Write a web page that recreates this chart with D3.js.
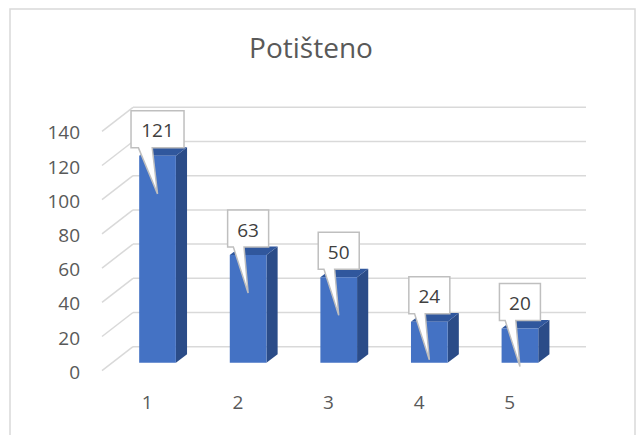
<!DOCTYPE html>
<html>
<head>
<meta charset="utf-8">
<script src="https://cdn.jsdelivr.net/npm/d3@7"></script>
<style>
  html, body { margin: 0; padding: 0; background: #fff; }
  svg { display: block; font-family: "Open Sans", "Noto Sans", sans-serif; }
</style>
</head>
<body>
<svg id="chart" width="640" height="435"></svg>
<script>
// Chart data
const categories = ["1", "2", "3", "4", "5"];
const values = [121, 63, 50, 24, 20];
const yTicks = [0, 20, 40, 60, 80, 100, 120, 140];
const title = "Potišteno";

const svg = d3.select("#chart");

// Outer chart frame
svg.append("rect")
  .attr("x", 10).attr("y", 9).attr("width", 625).attr("height", 440)
  .attr("fill", "#fff").attr("stroke", "#D9D9D9").attr("stroke-width", 1.5);

// Title
svg.append("text")
  .attr("x", 311).attr("y", 58)
  .attr("text-anchor", "middle")
  .attr("font-size", 28)
  .attr("fill", "#595959")
  .text(title);

// 3D projection: depth vector for full floor depth
const depth = { dx: 31, dy: -24 };
const x = d3.scaleBand().domain(categories).range([102, 555]).padding(0);
const y = d3.scaleLinear().domain([0, 140]).range([370.7, 131.3]);

function proj(px, v, z) {
  return [px + z * depth.dx, y(v) + z * depth.dy];
}

// Back wall and side wall gridlines
const grid = svg.append("g");
yTicks.forEach(t => {
  const a = proj(x.range()[0], t, 1);
  const b = proj(x.range()[1], t, 1);
  grid.append("line")
    .attr("x1", a[0]).attr("y1", a[1]).attr("x2", b[0]).attr("y2", b[1])
    .attr("stroke", "#D9D9D9").attr("stroke-width", 1.5);
  const c = proj(x.range()[0], t, 0);
  grid.append("line")
    .attr("x1", c[0]).attr("y1", c[1]).attr("x2", a[0]).attr("y2", a[1])
    .attr("stroke", "#D9D9D9").attr("stroke-width", 1.5);
});

// Value axis labels
svg.append("g").selectAll("text")
  .data(yTicks).join("text")
  .attr("x", 80).attr("y", d => y(d) + 1)
  .attr("text-anchor", "end")
  .attr("dominant-baseline", "central")
  .attr("font-size", 19)
  .attr("fill", "#595959")
  .text(d => d);

// Category labels
svg.append("g").selectAll("text")
  .data(categories).join("text")
  .attr("x", d => x(d) + x.bandwidth() / 2)
  .attr("y", 409)
  .attr("text-anchor", "middle")
  .attr("font-size", 19)
  .attr("fill", "#595959")
  .text(d => d);

// Bars as 3D boxes
const barFrac = 0.405, z0 = 0.33, z1 = 0.69;
const bars = svg.append("g");
const pts = a => a.map(p => p.join(",")).join(" ");
categories.forEach((c, i) => {
  const v = values[i];
  const w = x.bandwidth() * barFrac;
  const xl = x(c) + (x.bandwidth() - w) / 2, xr = xl + w;
  const fbl = proj(xl, 0, z0), fbr = proj(xr, 0, z0);
  const ftl = proj(xl, v, z0), ftr = proj(xr, v, z0);
  const bbr = proj(xr, 0, z1), btl = proj(xl, v, z1), btr = proj(xr, v, z1);
  bars.append("polygon").attr("points", pts([fbr, bbr, btr, ftr])).attr("fill", "#2B4C88");
  bars.append("polygon").attr("points", pts([ftl, ftr, btr, btl])).attr("fill", "#30579D");
  bars.append("polygon").attr("points", pts([fbl, fbr, ftr, ftl])).attr("fill", "#4472C4");
});

// Callout data labels
const labels = svg.append("g");
categories.forEach((c, i) => {
  const v = values[i];
  const cx = x(c) + x.bandwidth() / 2 + z0 * depth.dx;
  const top = y(v) + z0 * depth.dy;
  const txt = String(v);
  const bw = txt.length >= 3 ? 53 : 41, bh = 37;
  const bl = cx - bw / 2, bt = top - 45, bb = bt + bh;
  const tipX = cx, tipY = top + 38;
  const p1 = bl + bw * 0.14, p2 = bl + bw * 0.40;
  const path = d3.path();
  path.moveTo(bl, bt);
  path.lineTo(bl + bw, bt);
  path.lineTo(bl + bw, bb);
  path.lineTo(p2, bb);
  path.lineTo(tipX, tipY);
  path.lineTo(p1, bb);
  path.lineTo(bl, bb);
  path.closePath();
  labels.append("path").attr("d", path.toString())
    .attr("fill", "#fff").attr("stroke", "#BFBFBF").attr("stroke-width", 1.5)
    .attr("stroke-linejoin", "miter");
  labels.append("text")
    .attr("x", cx).attr("y", bt + bh / 2 + 1)
    .attr("text-anchor", "middle")
    .attr("dominant-baseline", "central")
    .attr("font-size", 19)
    .attr("fill", "#404040")
    .text(txt);
});
</script>
</body>
</html>
